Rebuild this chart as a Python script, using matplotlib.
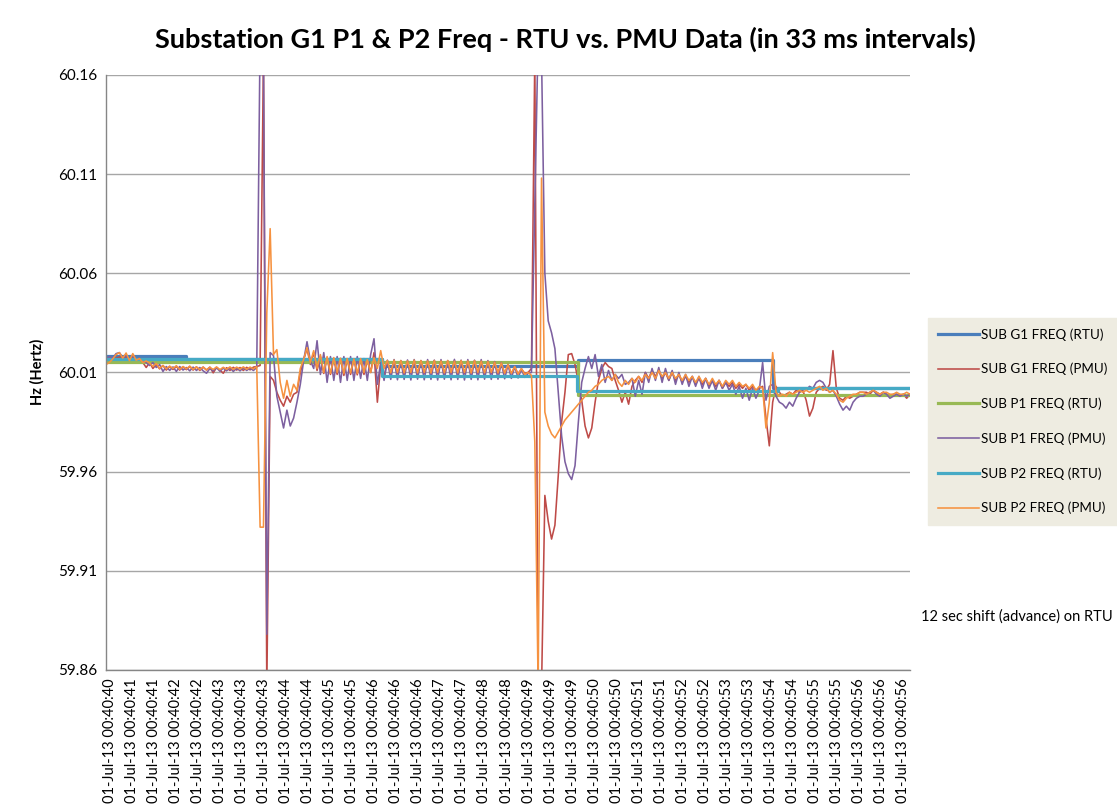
import numpy as np
import matplotlib
matplotlib.use('Agg')
import matplotlib.pyplot as plt

plt.rcParams['font.family'] = ['Lato', 'DejaVu Sans']

# sample index (33 ms samples), PMU values read every 2nd sample
x_pmu = np.arange(0, 481, 2)

sub_g1_pmu = [
    60.0150, 60.0160, 60.0165, 60.0172, 60.0178, 60.0170, 60.0175, 60.0165, 60.0172, 60.0160,
    60.0168, 60.0150, 60.0125, 60.0150, 60.0120, 60.0140, 60.0118, 60.0135, 60.0112, 60.0130,
    60.0115, 60.0130, 60.0112, 60.0128, 60.0114, 60.0130, 60.0112, 60.0128, 60.0110, 60.0127,
    60.0112, 60.0127, 60.0098, 60.0125, 60.0112, 60.0096, 60.0124, 60.0110, 60.0126, 60.0112,
    60.0125, 60.0110, 60.0126, 60.0113, 60.0127, 60.0130, 60.0135, 60.1700, 59.8500, 60.0080,
    60.0060, 60.0000, 59.9960, 59.9930, 59.9980, 59.9950, 59.9990, 60.0000, 60.0100, 60.0165,
    60.0220, 60.0140, 60.0200, 60.0110, 60.0180, 60.0095, 60.0170, 60.0090, 60.0165, 60.0090,
    60.0168, 60.0085, 60.0165, 60.0090, 60.0165, 60.0088, 60.0165, 60.0090, 60.0160, 60.0100,
    60.0200, 59.9950, 60.0140, 60.0080, 60.0158, 60.0092, 60.0160, 60.0095, 60.0158, 60.0092,
    60.0157, 60.0095, 60.0160, 60.0092, 60.0158, 60.0095, 60.0157, 60.0093, 60.0160, 60.0095,
    60.0158, 60.0092, 60.0157, 60.0095, 60.0160, 60.0093, 60.0158, 60.0095, 60.0156, 60.0092,
    60.0158, 60.0095, 60.0156, 60.0093, 60.0152, 60.0095, 60.0150, 60.0094, 60.0145, 60.0095,
    60.0138, 60.0093, 60.0128, 60.0092, 60.0118, 60.0095, 60.0100, 60.0120, 60.1700, 59.8500,
    59.8500, 59.9480, 59.9350, 59.9260, 59.9330, 59.9580, 59.9850, 60.0000, 60.0190, 60.0195,
    60.0140, 60.0050, 59.9960, 59.9830, 59.9770, 59.9820, 59.9950, 60.0060, 60.0120, 60.0150,
    60.0130, 60.0120, 60.0060, 60.0010, 59.9950, 60.0000, 59.9940, 60.0030, 60.0060, 60.0080,
    60.0050, 60.0100, 60.0070, 60.0110, 60.0080, 60.0110, 60.0070, 60.0100, 60.0060, 60.0100,
    60.0060, 60.0090, 60.0050, 60.0080, 60.0050, 60.0080, 60.0040, 60.0070, 60.0040, 60.0070,
    60.0030, 60.0060, 60.0030, 60.0060, 60.0020, 60.0050, 60.0030, 60.0050, 60.0020, 60.0040,
    60.0020, 60.0040, 60.0010, 60.0030, 60.0010, 60.0020, 60.0030, 59.9870, 59.9730, 59.9950,
    60.0030, 60.0000, 59.9980, 59.9990, 60.0000, 59.9990, 60.0010, 60.0000, 60.0010, 59.9960,
    59.9880, 59.9920, 60.0000, 60.0020, 60.0030, 60.0010, 60.0040, 60.0210, 60.0020, 59.9970,
    59.9960, 59.9980, 59.9970, 59.9980, 59.9990, 60.0000, 60.0000, 60.0000, 59.9990, 60.0010,
    60.0000, 59.9990, 60.0000, 59.9990, 59.9980, 59.9990, 59.9990, 59.9980, 59.9990, 59.9970,
    59.9990,
]

sub_p1_pmu = [
    60.0165, 60.0180, 60.0172, 60.0195, 60.0200, 60.0175, 60.0182, 60.0165, 60.0180, 60.0168,
    60.0172, 60.0160, 60.0150, 60.0135, 60.0150, 60.0125, 60.0140, 60.0105, 60.0130, 60.0110,
    60.0128, 60.0105, 60.0130, 60.0112, 60.0125, 60.0108, 60.0127, 60.0110, 60.0125, 60.0108,
    60.0096, 60.0120, 60.0108, 60.0124, 60.0106, 60.0122, 60.0108, 60.0124, 60.0105, 60.0122,
    60.0108, 60.0124, 60.0110, 60.0122, 60.0110, 60.0125, 60.1800, 60.1700, 59.8780, 60.0200,
    60.0185, 59.9980, 59.9900, 59.9820, 59.9910, 59.9830, 59.9870, 59.9950, 60.0040, 60.0160,
    60.0255, 60.0160, 60.0120, 60.0260, 60.0090, 60.0200, 60.0050, 60.0180, 60.0060, 60.0180,
    60.0050, 60.0180, 60.0060, 60.0180, 60.0060, 60.0180, 60.0070, 60.0170, 60.0060, 60.0190,
    60.0270, 60.0040, 60.0150, 60.0060, 60.0162, 60.0065, 60.0165, 60.0063, 60.0160, 60.0065,
    60.0163, 60.0062, 60.0165, 60.0066, 60.0160, 60.0063, 60.0165, 60.0065, 60.0162, 60.0062,
    60.0165, 60.0066, 60.0160, 60.0063, 60.0166, 60.0065, 60.0162, 60.0062, 60.0165, 60.0065,
    60.0162, 60.0063, 60.0165, 60.0066, 60.0160, 60.0065, 60.0155, 60.0066, 60.0150, 60.0068,
    60.0140, 60.0070, 60.0130, 60.0072, 60.0115, 60.0075, 60.0095, 60.0100, 60.0940, 60.1800,
    60.1700, 60.0600, 60.0360, 60.0300, 60.0220, 60.0000, 59.9780, 59.9650, 59.9590, 59.9560,
    59.9630, 59.9850, 60.0050, 60.0120, 60.0180, 60.0120, 60.0190, 60.0080, 60.0140, 60.0050,
    60.0110, 60.0060, 60.0090, 60.0070, 60.0090, 60.0040, 60.0050, 60.0070, 59.9980, 60.0060,
    59.9990, 60.0100, 60.0050, 60.0120, 60.0060, 60.0125, 60.0050, 60.0120, 60.0060, 60.0110,
    60.0040, 60.0100, 60.0040, 60.0090, 60.0030, 60.0080, 60.0030, 60.0080, 60.0020, 60.0070,
    60.0020, 60.0060, 60.0010, 60.0060, 60.0020, 60.0050, 60.0010, 60.0040, 59.9990, 60.0030,
    59.9970, 60.0020, 59.9960, 60.0020, 59.9970, 60.0010, 60.0150, 59.9960, 60.0030, 60.0040,
    59.9980, 59.9950, 59.9940, 59.9920, 59.9950, 59.9930, 59.9970, 60.0000, 60.0020, 60.0010,
    60.0030, 60.0020, 60.0050, 60.0060, 60.0050, 60.0020, 60.0000, 60.0010, 59.9980, 59.9940,
    59.9910, 59.9930, 59.9910, 59.9950, 59.9970, 59.9980, 59.9980, 59.9990, 60.0000, 60.0010,
    59.9990, 59.9980, 60.0000, 59.9990, 59.9970, 59.9980, 59.9990, 59.9980, 59.9990, 59.9980,
    59.9990,
]

sub_p2_pmu = [
    60.0140, 60.0150, 60.0168, 60.0190, 60.0200, 60.0172, 60.0198, 60.0160, 60.0195, 60.0162,
    60.0170, 60.0150, 60.0158, 60.0148, 60.0130, 60.0145, 60.0120, 60.0135, 60.0118, 60.0132,
    60.0120, 60.0134, 60.0116, 60.0130, 60.0118, 60.0132, 60.0115, 60.0128, 60.0114, 60.0127,
    60.0113, 60.0126, 60.0115, 60.0128, 60.0114, 60.0126, 60.0116, 60.0128, 60.0115, 60.0127,
    60.0117, 60.0128, 60.0116, 60.0127, 60.0118, 60.0130, 59.9320, 59.9320, 60.0400, 60.0825,
    60.0190, 60.0215, 60.0050, 59.9970, 60.0060, 59.9980, 60.0040, 60.0010, 60.0120, 60.0166,
    60.0225, 60.0150, 60.0210, 60.0120, 60.0190, 60.0100, 60.0180, 60.0095, 60.0175, 60.0100,
    60.0172, 60.0095, 60.0170, 60.0098, 60.0168, 60.0095, 60.0170, 60.0100, 60.0165, 60.0100,
    60.0175, 60.0120, 60.0210, 60.0120, 60.0160, 60.0098, 60.0162, 60.0100, 60.0160, 60.0098,
    60.0158, 60.0100, 60.0162, 60.0098, 60.0160, 60.0100, 60.0158, 60.0097, 60.0160, 60.0100,
    60.0158, 60.0098, 60.0160, 60.0100, 60.0157, 60.0098, 60.0160, 60.0100, 60.0158, 60.0097,
    60.0160, 60.0100, 60.0157, 60.0098, 60.0155, 60.0100, 60.0152, 60.0098, 60.0148, 60.0096,
    60.0140, 60.0095, 60.0130, 60.0092, 60.0120, 60.0090, 60.0100, 60.0085, 59.9750, 59.8500,
    60.1080, 59.9900, 59.9830, 59.9790, 59.9770, 59.9800, 59.9830, 59.9860, 59.9880, 59.9900,
    59.9920, 59.9940, 59.9960, 59.9980, 60.0000, 60.0010, 60.0030, 60.0040, 60.0060, 60.0070,
    60.0080, 60.0060, 60.0090, 60.0050, 60.0030, 60.0060, 60.0040, 60.0070, 60.0050, 60.0080,
    60.0060, 60.0090, 60.0070, 60.0100, 60.0070, 60.0110, 60.0080, 60.0100, 60.0070, 60.0100,
    60.0070, 60.0090, 60.0060, 60.0090, 60.0060, 60.0080, 60.0050, 60.0080, 60.0050, 60.0070,
    60.0040, 60.0070, 60.0040, 60.0060, 60.0030, 60.0060, 60.0040, 60.0060, 60.0030, 60.0050,
    60.0030, 60.0040, 60.0020, 60.0040, 60.0010, 60.0030, 60.0020, 59.9820, 59.9950, 60.0200,
    60.0000, 59.9980, 59.9990, 59.9980, 60.0000, 59.9990, 60.0000, 60.0010, 60.0000, 60.0010,
    60.0000, 60.0010, 60.0020, 60.0030, 60.0010, 60.0020, 60.0000, 60.0010, 59.9990, 59.9960,
    59.9950, 59.9970, 59.9980, 59.9990, 59.9990, 60.0000, 60.0000, 59.9990, 60.0000, 60.0010,
    60.0000, 59.9990, 60.0000, 60.0000, 59.9990, 59.9990, 60.0000, 59.9990, 59.9990, 60.0000,
    59.9990,
]

# RTU values only change at a few samples (step series)
g1_rtu_x = [0, 48, 165, 282, 398, 480]
g1_rtu_y = [60.0185, 60.0168, 60.0132, 60.0162, 60.0023, 60.0023]
p1_rtu_x = [0, 282, 480]
p1_rtu_y = [60.0152, 59.9985, 59.9985]
p2_rtu_x = [0, 165, 281, 401, 480]
p2_rtu_y = [60.0170, 60.0080, 60.0004, 60.0023, 60.0023]

tick_labels = [
    '01-Jul-13 00:40:40', '01-Jul-13 00:40:41', '01-Jul-13 00:40:41', '01-Jul-13 00:40:42',
    '01-Jul-13 00:40:42', '01-Jul-13 00:40:43', '01-Jul-13 00:40:43', '01-Jul-13 00:40:43',
    '01-Jul-13 00:40:44', '01-Jul-13 00:40:44', '01-Jul-13 00:40:45', '01-Jul-13 00:40:45',
    '01-Jul-13 00:40:46', '01-Jul-13 00:40:46', '01-Jul-13 00:40:46', '01-Jul-13 00:40:47',
    '01-Jul-13 00:40:47', '01-Jul-13 00:40:48', '01-Jul-13 00:40:48', '01-Jul-13 00:40:49',
    '01-Jul-13 00:40:49', '01-Jul-13 00:40:49', '01-Jul-13 00:40:50', '01-Jul-13 00:40:50',
    '01-Jul-13 00:40:51', '01-Jul-13 00:40:51', '01-Jul-13 00:40:52', '01-Jul-13 00:40:52',
    '01-Jul-13 00:40:53', '01-Jul-13 00:40:53', '01-Jul-13 00:40:54', '01-Jul-13 00:40:54',
    '01-Jul-13 00:40:55', '01-Jul-13 00:40:55', '01-Jul-13 00:40:56', '01-Jul-13 00:40:56',
    '01-Jul-13 00:40:56',
]

fig = plt.figure(figsize=(11.17, 8.11), dpi=100)
ax = fig.add_axes([0.0949, 0.1739, 0.7198, 0.7337])

rtu_lw = 2.3
pmu_lw = 1.15
ax.step(g1_rtu_x, g1_rtu_y, where='post', color='#4A7EBB', lw=rtu_lw, label='SUB G1 FREQ (RTU)')
ax.plot(x_pmu, sub_g1_pmu, color='#BE4B48', lw=pmu_lw, label='SUB G1 FREQ (PMU)')
ax.step(p1_rtu_x, p1_rtu_y, where='post', color='#98B954', lw=rtu_lw, label='SUB P1 FREQ (RTU)')
ax.plot(x_pmu, sub_p1_pmu, color='#7D60A0', lw=pmu_lw, label='SUB P1 FREQ (PMU)')
ax.step(p2_rtu_x, p2_rtu_y, where='post', color='#46AAC5', lw=rtu_lw, label='SUB P2 FREQ (RTU)')
ax.plot(x_pmu, sub_p2_pmu, color='#F69240', lw=pmu_lw, label='SUB P2 FREQ (PMU)')

ax.set_xlim(0, 480)
ax.set_ylim(59.86, 60.16)
yt = np.round(np.arange(59.86, 60.161, 0.05), 2)
ax.set_yticks(yt)
ax.set_yticklabels(['%.2f' % v for v in yt])
ax.set_xticks(2.4 + 13.15 * np.arange(len(tick_labels)))
ax.set_xticklabels(tick_labels, rotation=90)
ax.tick_params(axis='both', labelsize=10.5, colors='#868686', labelcolor='black', length=0, pad=6)
ax.tick_params(axis='y', labelsize=11)

ax.grid(axis='y', color='#A6A6A6', lw=1)
ax.set_axisbelow(True)
for s in ['top', 'right']:
    ax.spines[s].set_visible(False)
for s in ['left', 'bottom']:
    ax.spines[s].set_color('#868686')
    ax.spines[s].set_linewidth(1)

fig.text(0.506, 0.951, 'Substation G1 P1 & P2 Freq - RTU vs. PMU Data (in 33 ms intervals)',
         ha='center', va='center', fontsize=19.5, fontweight='bold')
fig.text(0.033, 0.541, 'Hz (Hertz)', rotation=90, ha='center', va='center',
         fontsize=10.5, fontweight='bold')
fig.text(0.8245, 0.2392, '12 sec shift (advance) on RTU', ha='left', va='center', fontsize=10.5)

leg = ax.legend(loc='upper left', bbox_to_anchor=(0.831, 0.608), bbox_transform=fig.transFigure,
                fontsize=9.7, frameon=True, fancybox=False, framealpha=1, borderaxespad=0,
                labelspacing=1.65, handlelength=3.0, handletextpad=0.2, borderpad=0.75)
leg.get_frame().set_facecolor('#EEECE1')
leg.get_frame().set_edgecolor('#EEECE1')

fig.savefig('out.png', dpi=100)
